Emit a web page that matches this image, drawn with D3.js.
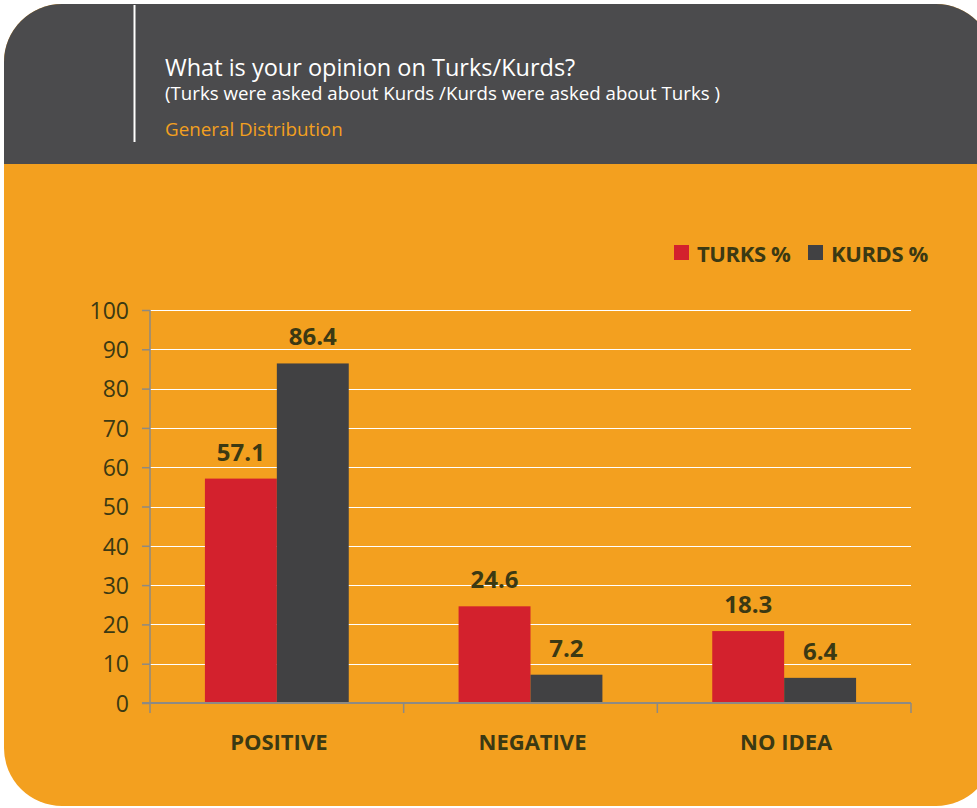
<!DOCTYPE html>
<html>
<head>
<meta charset="utf-8">
<script src="https://cdn.jsdelivr.net/npm/d3@7"></script>
<style>
  body { margin: 0; background: #fff; }
  svg { display: block; font-family: 'Open Sans', sans-serif; }
</style>
</head>
<body>
<svg id="chart" width="977" height="808"></svg>
<script>
/* global d3 */

const categories = ['POSITIVE', 'NEGATIVE', 'NO IDEA']
const series = ['TURKS %', 'KURDS %']
const turks = [57.1, 24.6, 18.3]
const kurds = [86.4, 7.2, 6.4]
const yTicks = [0, 10, 20, 30, 40, 50, 60, 70, 80, 90, 100]

const colors = {
  header: '#4b4b4d',
  orange: '#f3a01f',
  red: '#d3212d',
  dark: '#414143',
  text: '#3b3913',
  axis: '#8d8a84',
  title: '#ffffff',
  sub: '#f3a01f'
}

const svg = d3.select('#chart')
const margin = {left: 150, right: 66, top: 310, bottom: 105}
const W = 977
const H = 808

// card shape
svg.append('clipPath')
  .attr('id', 'card')
  .append('rect')
  .attr('x', 4)
  .attr('y', 4)
  .attr('width', 990)
  .attr('height', 802)
  .attr('rx', 58)

const card = svg.append('g').attr('clip-path', 'url(#card)')
card.append('rect')
  .attr('x', 0).attr('y', 0)
  .attr('width', W).attr('height', H)
  .attr('fill', colors.orange)
card.append('rect')
  .attr('x', 0).attr('y', 0)
  .attr('width', W).attr('height', 164)
  .attr('fill', colors.header)

// header
svg.append('line')
  .attr('x1', 134.5).attr('x2', 134.5)
  .attr('y1', 5).attr('y2', 142)
  .attr('stroke', '#ffffff')
  .attr('stroke-width', 2)
svg.append('text')
  .text('What is your opinion on Turks/Kurds?')
  .attr('x', 165).attr('y', 76)
  .attr('fill', colors.title)
  .style('font-size', '23.5px')
svg.append('text')
  .text('(Turks were asked about Kurds /Kurds were asked about Turks )')
  .attr('x', 165).attr('y', 100)
  .attr('fill', colors.title)
  .style('font-size', '18.7px')
svg.append('text')
  .text('General Distribution')
  .attr('x', 165).attr('y', 136)
  .attr('fill', colors.sub)
  .style('font-size', '18.8px')

// scales
const x0 = d3.scaleBand()
  .domain(categories)
  .range([margin.left, W - margin.right])
const groupW = x0.bandwidth() * 0.567
const x1 = d3.scaleBand()
  .domain(series)
  .range([0, groupW])
const y = d3.scaleLinear()
  .domain([0, 100])
  .range([H - margin.bottom, margin.top])

const rows = categories.map((c, i) => ({cat: c, values: [turks[i], kurds[i]]}))

// grid
svg.append('g')
  .selectAll('line')
  .data(yTicks.filter(t => t > 0))
  .join('line')
  .attr('x1', margin.left)
  .attr('x2', W - margin.right)
  .attr('y1', d => Math.round(y(d)) + 0.5)
  .attr('y2', d => Math.round(y(d)) + 0.5)
  .attr('stroke', '#ffffff')
  .attr('stroke-width', 1.2)

// bars
const groups = svg.append('g')
  .selectAll('g')
  .data(rows)
  .join('g')
  .attr('transform', d => 'translate(' + (x0(d.cat) + (x0.bandwidth() - groupW) / 2) + ',0)')

groups.selectAll('rect')
  .data(d => d.values.map((v, i) => ({s: series[i], v: v})))
  .join('rect')
  .attr('x', d => x1(d.s))
  .attr('y', d => y(d.v))
  .attr('width', x1.bandwidth())
  .attr('height', d => y(0) - y(d.v))
  .attr('fill', (d, i) => i === 0 ? colors.red : colors.dark)

groups.selectAll('text')
  .data(d => d.values.map((v, i) => ({s: series[i], v: v})))
  .join('text')
  .text(d => d.v)
  .attr('x', d => x1(d.s) + x1.bandwidth() / 2)
  .attr('y', d => y(d.v) - 18)
  .attr('text-anchor', 'middle')
  .style('font-size', '24px')
  .style('font-weight', 'bold')
  .attr('fill', colors.text)

// y axis
const yAxis = svg.append('g')
  .attr('transform', 'translate(' + margin.left + ',0)')
  .call(d3.axisLeft(y).tickValues(yTicks).tickSize(8).tickPadding(13))
yAxis.select('.domain').remove()
yAxis.append('line')
  .attr('x1', 0).attr('x2', 0)
  .attr('y1', margin.top).attr('y2', y(0) + 10)
  .attr('stroke', colors.axis)
  .attr('stroke-width', 1.5)
yAxis.selectAll('.tick line').attr('stroke', colors.axis).attr('stroke-width', 1.5)
yAxis.selectAll('.tick text')
  .attr('fill', colors.text)
  .style('font-size', '23px')
  .style('font-family', "'Open Sans', sans-serif")
  .attr('dy', '0.36em')

// x axis
const xAxis = svg.append('g')
  .attr('transform', 'translate(0,' + y(0) + ')')
xAxis.append('line')
  .attr('x1', margin.left - 8).attr('x2', W - margin.right)
  .attr('y1', 0).attr('y2', 0)
  .attr('stroke', colors.axis)
  .attr('stroke-width', 2)
xAxis.selectAll('line.sep')
  .data(categories)
  .join('line')
  .attr('class', 'sep')
  .attr('x1', d => x0(d) + x0.bandwidth())
  .attr('x2', d => x0(d) + x0.bandwidth())
  .attr('y1', 0).attr('y2', 10)
  .attr('stroke', colors.axis)
  .attr('stroke-width', 1.5)
xAxis.selectAll('text')
  .data(categories)
  .join('text')
  .text(d => d)
  .attr('x', d => x0(d) + x0.bandwidth() / 2 + 2)
  .attr('y', 47)
  .attr('text-anchor', 'middle')
  .style('font-size', '22px')
  .style('font-weight', 'bold')
  .attr('fill', colors.text)

// legend
const legend = svg.append('g')
  .selectAll('g')
  .data(series)
  .join('g')
  .attr('transform', (d, i) => 'translate(' + (674 + i * 134) + ',245)')
legend.append('rect')
  .attr('width', 15).attr('height', 15)
  .attr('fill', (d, i) => i === 0 ? colors.red : colors.dark)
legend.append('text')
  .text(d => d)
  .attr('x', 23).attr('y', 17)
  .style('font-size', '22px')
  .style('font-weight', 'bold')
  .style('letter-spacing', '-0.4px')
  .attr('fill', colors.text)
</script>
</body>
</html>
